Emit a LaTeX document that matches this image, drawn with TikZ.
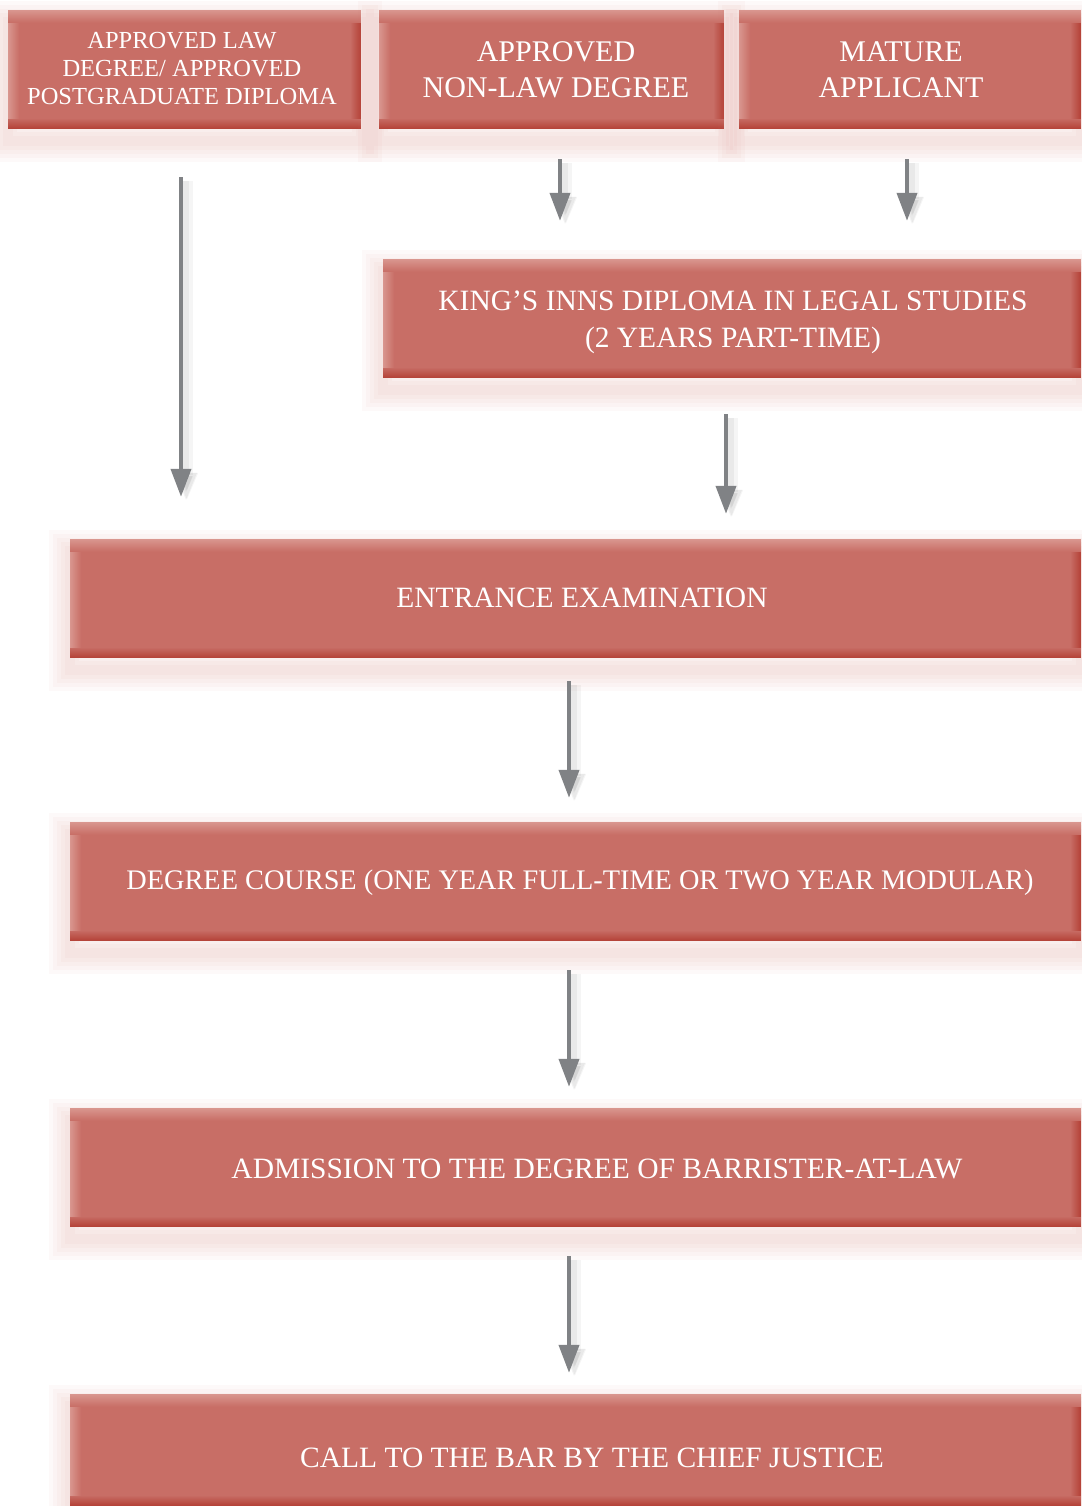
\documentclass[tikz,border=0pt]{standalone}
\usepackage{fontspec}
\setmainfont{Liberation Serif}
\usetikzlibrary{arrows.meta}
\definecolor{boxred}{HTML}{C86E66}
\definecolor{boxlight}{HTML}{D9968F}
\definecolor{boxdark}{HTML}{B5443A}
\definecolor{glow}{HTML}{CF7770}
\definecolor{arrgray}{HTML}{808285}
\tikzset{
  glowlayer/.style={preaction={draw=glow, line width=#1, opacity=0.045, transform canvas={yshift=-12pt}}},
  stepbox/.style={rectangle, inner sep=0pt, fill=boxred, text=white, align=center,
    glowlayer=42pt, glowlayer=34pt, glowlayer=26pt, glowlayer=18pt, glowlayer=10pt,
    path picture={
      \foreach \i [evaluate=\i as \p using 100-\i*9] in {0,...,11}
        \fill[boxlight!\p!boxred] ([xshift=\i pt]path picture bounding box.north west) rectangle ([xshift=\i pt+1.05pt]path picture bounding box.south west);
      \foreach \i [evaluate=\i as \p using 100-\i*10] in {0,...,9}
        \fill[boxdark!\p!boxred] ([xshift=-\i pt]path picture bounding box.north east) rectangle ([xshift=-\i pt-1.05pt]path picture bounding box.south east);
      \foreach \i [evaluate=\i as \p using 100-\i*8] in {0,...,12}
        \fill[boxlight!\p!boxred] ([yshift=-\i pt]path picture bounding box.north west) rectangle ([yshift=-\i pt-1.05pt]path picture bounding box.north east);
      \foreach \i [evaluate=\i as \p using 100-\i*10] in {0,...,9}
        \fill[boxdark!\p!boxred] ([yshift=\i pt]path picture bounding box.south west) rectangle ([yshift=\i pt+1.05pt]path picture bounding box.south east);
    }},
  boxtext/.style={text=white, align=center, font=\fontsize{29.5}{37}\selectfont},
  arr/.style={draw=arrgray, line width=4pt, -{Triangle[length=28pt,width=20pt]},
    preaction={draw=black, opacity=0.04, line width=12pt, transform canvas={xshift=6pt,yshift=-4pt}},
    preaction={draw=black, opacity=0.05, line width=6pt, transform canvas={xshift=5pt,yshift=-4pt}}}
}
\begin{document}
\begin{tikzpicture}[x=1pt,y=-1pt]
\useasboundingbox (0,0) rectangle (1081,1506);
\node[stepbox, minimum width=353pt, minimum height=119pt] (law) at (184.5,69.5) {};
\node[boxtext, font=\fontsize{24.5}{28}\selectfont] (lawt) at (182,69) {APPROVED LAW\\DEGREE/ APPROVED\\POSTGRADUATE DIPLOMA};
\node[stepbox, minimum width=345pt, minimum height=119pt] (nonlaw) at (551.5,69.5) {};
\node[boxtext, font=\fontsize{30}{36}\selectfont] (nonlawt) at (556,70) {APPROVED\\NON-LAW DEGREE};
\node[stepbox, minimum width=342pt, minimum height=119pt] (mature) at (910,69.5) {};
\node[boxtext, font=\fontsize{30}{36}\selectfont] (maturet) at (901,70) {MATURE\\APPLICANT};
\node[stepbox, minimum width=698pt, minimum height=119pt] (kings) at (732,318.5) {};
\node[boxtext] (kingst) at (733,322) {KING’S INNS DIPLOMA IN LEGAL STUDIES\\(2 YEARS PART-TIME)};
\node[stepbox, minimum width=1011pt, minimum height=119pt] (entr) at (575.5,598.5) {};
\node[boxtext] (entrt) at (582,598) {ENTRANCE EXAMINATION};
\node[stepbox, minimum width=1011pt, minimum height=119pt] (course) at (575.5,881.5) {};
\node[boxtext, font=\fontsize{28.3}{34}\selectfont] (courset) at (580,883) {DEGREE COURSE (ONE YEAR FULL-TIME OR TWO YEAR MODULAR)};
\node[stepbox, minimum width=1011pt, minimum height=119pt] (adm) at (575.5,1167.5) {};
\node[boxtext] (admt) at (597,1169) {ADMISSION TO THE DEGREE OF BARRISTER-AT-LAW};
\node[stepbox, minimum width=1011pt, minimum height=112pt] (call) at (575.5,1450) {};
\node[boxtext] (callt) at (592,1458) {CALL TO THE BAR BY THE CHIEF JUSTICE};
% connectors
\draw[arr, shorten <=48pt, shorten >=42pt] ([xshift=-3.5pt]law.south) -- ([xshift=-3.5pt]law.south |- entr.north);
\draw[arr, shorten <=30pt, shorten >=38pt] ([xshift=8.5pt]nonlaw.south) -- ([xshift=8.5pt]nonlaw.south |- kings.north);
\draw[arr, shorten <=30pt, shorten >=38pt] ([xshift=-3pt]mature.south) -- ([xshift=-3pt]mature.south |- kings.north);
\draw[arr, shorten <=36pt, shorten >=25pt] ([xshift=-6pt]kings.south) -- ([xshift=-6pt]kings.south |- entr.north);
\draw[arr, shorten <=23pt, shorten >=24pt] ([xshift=-6.5pt]entr.south) -- ([xshift=-6.5pt]entr.south |- course.north);
\draw[arr, shorten <=29pt, shorten >=21pt] ([xshift=-6.5pt]course.south) -- ([xshift=-6.5pt]course.south |- adm.north);
\draw[arr, shorten <=29pt, shorten >=21pt] ([xshift=-6.5pt]adm.south) -- ([xshift=-6.5pt]adm.south |- call.north);
\end{tikzpicture}
\end{document}
